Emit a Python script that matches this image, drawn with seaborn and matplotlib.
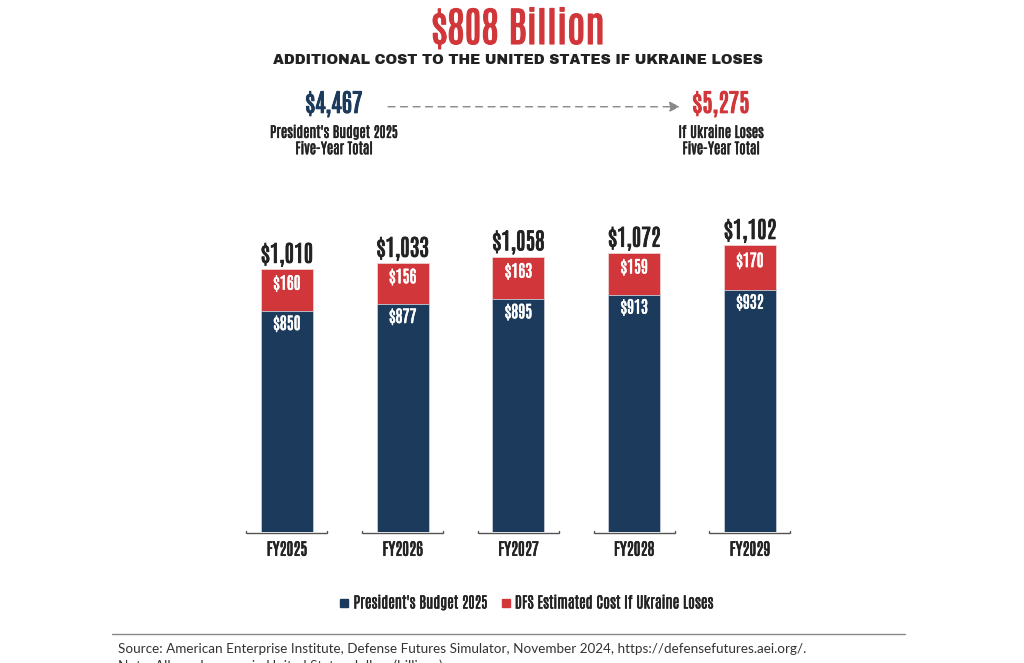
import pandas as pd
import seaborn as sns
import matplotlib.pyplot as plt
import matplotlib.patheffects as pe
from matplotlib.patches import FancyArrowPatch
from matplotlib.lines import Line2D

# Data (billions of US dollars)
years = ["FY2025", "FY2026", "FY2027", "FY2028", "FY2029"]
budget = [850, 877, 895, 913, 932]
dfs_cost = [160, 156, 163, 159, 170]
totals = [b + d for b, d in zip(budget, dfs_cost)]
budget_total_label = "$4,467"
loses_total_label = "$5,275"

NAVY = "#1b3a5c"
RED = "#d1373a"
DARK = "#222222"

COND = ["Antonio", "Oswald", "Roboto Condensed", "DejaVu Sans"]
HEAVY = ["Archivo Black", "DejaVu Sans"]


def bold(color, w=0.8):
    # thicken the condensed face a little
    return [pe.withStroke(linewidth=w, foreground=color)]


df = pd.DataFrame({"year": years, "budget": budget, "dfs": dfs_cost, "total": totals})

sns.set_theme(style="white")
plt.rcParams["font.family"] = COND

fig = plt.figure(figsize=(10.24, 6.63), dpi=100)
ax = fig.add_axes([0.2237, 0.1976, 0.5652, 0.4706])

# stacked bars: total in red, budget drawn over it in navy
sns.barplot(data=df, x="year", y="total", color=RED, width=0.45, ax=ax,
            edgecolor="#f0d0d0", linewidth=0.6, saturation=1)
sns.barplot(data=df, x="year", y="budget", color=NAVY, width=0.45, ax=ax,
            edgecolor="#c8d0dc", linewidth=0.6, saturation=1)

ax.set_xlim(-0.5, 4.5)
ax.set_ylim(0, 1200)
ax.set_xlabel("")
ax.set_ylabel("")
ax.set_yticks([])
for s in ax.spines.values():
    s.set_visible(False)
ax.tick_params(axis="x", length=0, pad=7)
for lab in ax.get_xticklabels():
    lab.set_fontsize(12)
    lab.set_color(DARK)
    lab.set_path_effects(bold(DARK, 0.45))

# small brackets under each category
for i in range(len(years)):
    ax.plot([i - 0.35, i - 0.35, i + 0.35, i + 0.35], [4, -4, -4, 4],
            color="#555555", lw=1, clip_on=False, solid_joinstyle="miter")

for i, (b, d, t) in enumerate(zip(budget, dfs_cost, totals)):
    ax.text(i, t + 10, f"${t:,}", ha="center", va="bottom", fontsize=16.5,
            color=DARK, path_effects=bold(DARK, 0.6))
    ax.text(i, b + d / 2 + 25, f"${d}", ha="center", va="center", fontsize=12,
            color="white", path_effects=bold("white", 0.4))
    ax.text(i, b - 50, f"${b}", ha="center", va="center", fontsize=12,
            color="white", path_effects=bold("white", 0.4))

# headline block
fig.text(0.506, 0.957, "$808 Billion", ha="center", va="center", fontsize=29.5,
         color=RED, path_effects=bold(RED, 0.8))
fig.text(0.506, 0.909, "ADDITIONAL COST TO THE UNITED STATES IF UKRAINE LOSES",
         ha="center", va="center", fontsize=10.1, color=DARK, family=HEAVY)

fig.text(0.326, 0.843, budget_total_label, ha="center", va="center", fontsize=18,
         color=NAVY, path_effects=bold(NAVY, 0.7))
fig.text(0.326, 0.788, "President's Budget 2025\nFive-Year Total", ha="center",
         va="center", fontsize=10.5, color=DARK, linespacing=1.1,
         path_effects=bold(DARK, 0.35))
fig.text(0.704, 0.843, loses_total_label, ha="center", va="center", fontsize=18,
         color=RED, path_effects=bold(RED, 0.7))
fig.text(0.704, 0.788, "If Ukraine Loses\nFive-Year Total", ha="center",
         va="center", fontsize=10.5, color=DARK, linespacing=1.1,
         path_effects=bold(DARK, 0.35))
fig.add_artist(FancyArrowPatch(
    (0.379, 0.839), (0.664, 0.839), transform=fig.transFigure,
    arrowstyle="-|>,head_length=6,head_width=3", color="#888888",
    linestyle=(0, (5, 4)), lw=1, shrinkA=0, shrinkB=0))

# legend
handles = [Line2D([], [], marker="s", ls="", color=NAVY, markersize=6),
           Line2D([], [], marker="s", ls="", color=RED, markersize=6)]
leg = fig.legend(handles, ["President's Budget 2025", "DFS Estimated Cost If Ukraine Loses"],
                 loc="center", bbox_to_anchor=(0.512, 0.0905), ncol=2, frameon=False,
                 handletextpad=0.0, columnspacing=0.6, handlelength=1.2,
                 prop={"family": COND, "size": 11})
for t in leg.get_texts():
    t.set_color(DARK)
    t.set_path_effects(bold(DARK, 0.35))

# source
fig.add_artist(Line2D([0.109, 0.884], [0.043, 0.043], transform=fig.transFigure,
                      color="#888888", lw=1))
fig.text(0.115, 0.021, "Source: American Enterprise Institute, Defense Futures Simulator, "
         "November 2024, https://defensefutures.aei.org/.", ha="left", va="center",
         fontsize=9.7, color="#333333", family=["Lato", "DejaVu Sans"])
fig.text(0.115, -0.004, "Note: All numbers are in United States dollars (billions).",
         ha="left", va="center", fontsize=9.7, color="#333333", family=["Lato", "DejaVu Sans"])

fig.savefig("out.png", dpi=100)
